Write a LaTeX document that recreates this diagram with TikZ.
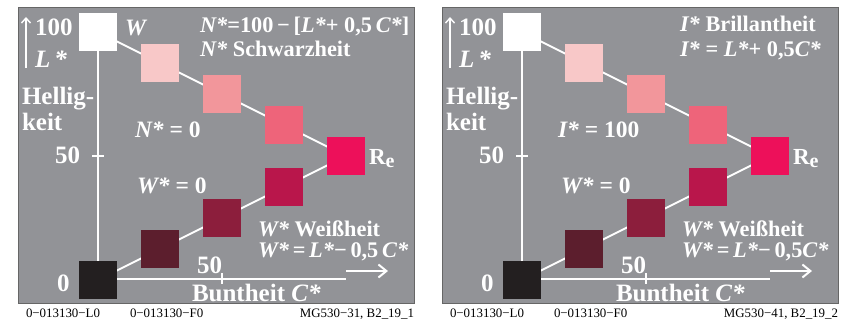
\documentclass[tikz,border=0pt]{standalone}
\usepackage{fontspec}
\setmainfont{Liberation Serif}
\usetikzlibrary{arrows.meta}
\pgfdeclarelayer{bg}
\pgfdeclarelayer{mid}
\pgfsetlayers{bg,mid,main}
\definecolor{panelgray}{RGB}{146,147,151}
\definecolor{ca}{RGB}{248,200,200}
\definecolor{cb}{RGB}{242,150,155}
\definecolor{cc}{RGB}{238,100,122}
\definecolor{cre}{RGB}{237,16,90}
\definecolor{ka}{RGB}{35,31,32}
\definecolor{kb}{RGB}{92,30,45}
\definecolor{kc}{RGB}{140,30,60}
\definecolor{kd}{RGB}{185,22,75}
\tikzset{
  sq/.style={draw=none, minimum size=38pt, inner sep=0pt, outer sep=0pt},
  wl/.style={white, line width=2pt},
  lab/.style={text=white, anchor=base west, inner sep=0pt, outer sep=0pt,
    font=\fontsize{22.3}{24}\selectfont\bfseries},
  big/.style={lab, font=\fontsize{25}{27}\selectfont\bfseries},
  mid/.style={lab, font=\fontsize{23.5}{25}\selectfont\bfseries},
  foot/.style={text=black, anchor=base west, inner sep=0pt, outer sep=0pt,
    font=\fontsize{12.9}{14}\selectfont},
}
\newcommand{\vi}[1]{\textit{#1}}
\newcommand{\drawpanel}[2]{%
  \begin{pgfonlayer}{bg}
    \filldraw[fill=panelgray, draw=black!60, line width=0.6pt] (18,7) rectangle (414,303.5);
  \end{pgfonlayer}
  \node[sq, fill=white] (#1w) at (98,32) {};
  \node[sq, fill=ca] (#1a) at (160,63) {};
  \node[sq, fill=cb] (#1b) at (222,94) {};
  \node[sq, fill=cc] (#1c) at (284,125) {};
  \node[sq, fill=cre] (#1re) at (346,156) {};
  \node[sq, fill=ka] (#1k) at (98,280) {};
  \node[sq, fill=kb] (#1d) at (160,249) {};
  \node[sq, fill=kc] (#1e) at (222,218) {};
  \node[sq, fill=kd] (#1f) at (284,187) {};
  \coordinate (#1o) at (98,279);
  \coordinate (#1cx) at (346,279);
  \coordinate (#1ty) at (98,156);
  \coordinate (#1tx) at (222,279);
  \coordinate (#1la) at (26,68);
  \coordinate (#1lb) at (26,17);
  \coordinate (#1ca) at (346,271);
  \coordinate (#1cb) at (388,271);
  \begin{pgfonlayer}{mid}
    \draw[wl] (#1w.center) -- (#1re.center);
    \draw[wl] (#1k.center) -- (#1re.center);
    \draw[wl] (#1w.south) -- (#1o) -- (#1cx);
    \draw[wl] (#1ty) ++(-6,0) -- ++(12,0);
    \draw[wl] (#1tx) ++(0,-6) -- ++(0,11);
  \end{pgfonlayer}
  \draw[white, line width=1.4pt, -{Straight Barb[length=5pt,width=9pt]}] (#1la) -- (#1lb);
  \draw[white, line width=2pt, -{Straight Barb[length=8pt,width=13pt]}] (#1ca) -- (#1cb);
  \node[big] (#1t100) at (35,36) {100};
  \node[big] (#1tL) at (35,67) {\vi{L\,*}};
  \node[big] (#1th) at (22,104) {Hellig-};
  \node[big] (#1tk) at (22,130) {keit};
  \node[big] (#1t50) at (55,163) {50};
  \node[big] (#1t0) at (57,291) {0};
  \node[big] (#1t50x) at (197,273) {50};
  \node[big] (#1tb) at (192,301) {Buntheit \vi{C*}};
  \node[lab, font=\fontsize{23}{24}\selectfont\bfseries] (#1tre) at (369,164)
     {R\raisebox{-3pt}{\fontsize{20}{20}\selectfont\bfseries e}};
  \node[mid] (#1tw0) at (137,193) {\vi{W*} = 0};
  \node[lab] (#1tww) at (258,236) {\vi{W*} Weißheit};
  \node[foot] (#1f1) at (26,317) {0−013130−L0};
  \node[foot] (#1f2) at (130,317) {0−013130−F0};
  \node[foot, anchor=base east] (#1f3) at (414,317) {#2};
}
\begin{document}
\begin{tikzpicture}[x=1pt,y=-1pt]
\useasboundingbox (0,0) rectangle (843,321);
\begin{pgfonlayer}{bg}
\fill[white] (0,0) rectangle (843,321);
\end{pgfonlayer}
\begin{scope}
  \drawpanel{L}{MG530−31, B2\_19\_1}
  \node[mid] (LtW) at (125,36) {\vi{W}};
  \node[lab] (LtN1) at (200,33) {\vi{N*}=100\,−\,[\vi{L*}+ 0,5\,\vi{C*}]};
  \node[lab] (LtN2) at (200,57) {\vi{N*} Schwarzheit};
  \node[mid] (LtN0) at (135,137) {\vi{N*} = 0};
  \node[lab] (Ltwf) at (258,257) {\vi{W*}\,=\,\vi{L*}−\,0,5\,\vi{C*}};
\end{scope}
\begin{scope}[xshift=424pt]
  \drawpanel{R}{MG530−41, B2\_19\_2}
  \node[lab] (RtI1) at (256,32) {\vi{I*} Brillantheit};
  \node[lab] (RtI2) at (256,57) {\vi{I*} = \vi{L*}+ 0,5\vi{C*}};
  \node[mid] (RtI0) at (134,137) {\vi{I*} = 100};
  \node[lab] (Rtwf) at (258,257) {\vi{W*}\,=\,\vi{L*}−\,0,5\vi{C*}};
\end{scope}
\end{tikzpicture}
\end{document}
